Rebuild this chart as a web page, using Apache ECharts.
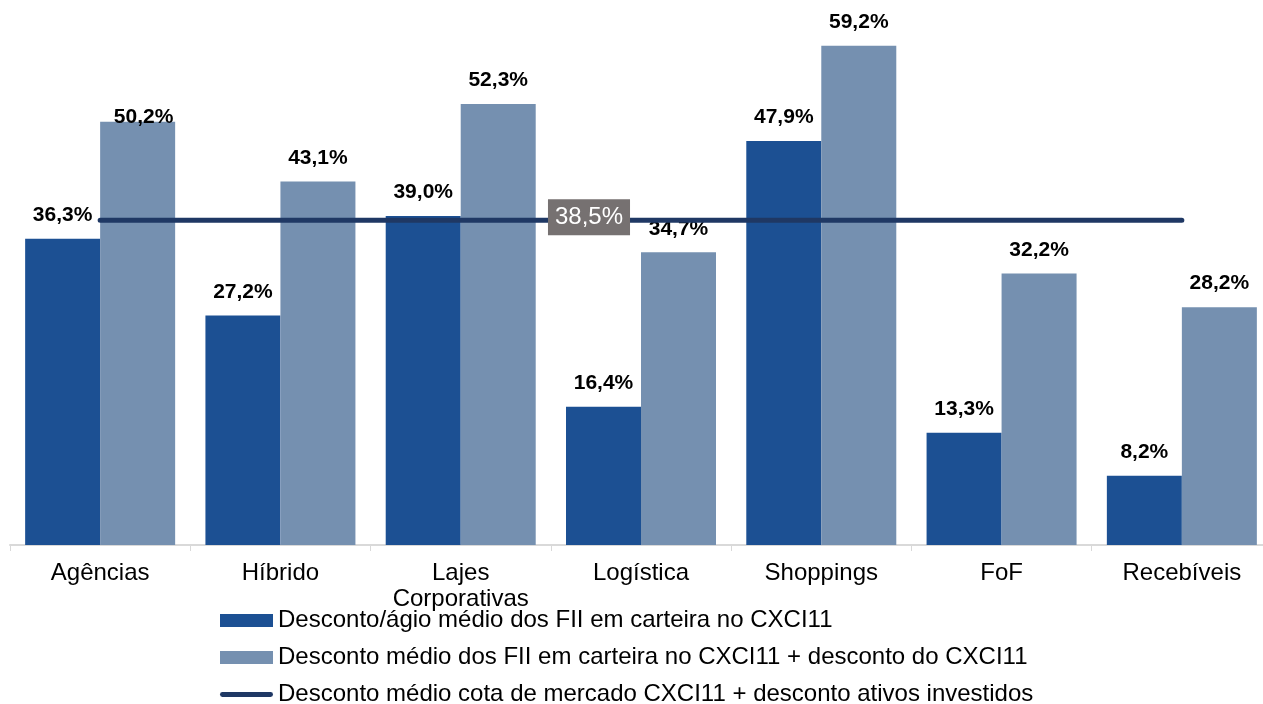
<!DOCTYPE html>
<html>
<head>
<meta charset="utf-8">
<script src="https://cdn.jsdelivr.net/npm/echarts@6/dist/echarts.min.js"></script>
<style>
  html, body { margin: 0; padding: 0; background: #fff; overflow: hidden; }
  #chart { width: 1280px; height: 704px; }
</style>
</head>
<body>
<div id="chart"></div>
<script>
// categorias
const categories = ["Agências", "Híbrido", "Lajes\nCorporativas", "Logística", "Shoppings", "FoF", "Recebíveis"];
// desconto/ágio médio dos FII em carteira
const descontoFii = [36.3, 27.2, 39.0, 16.4, 47.9, 13.3, 8.2];
// desconto médio + desconto do CXCI11
const descontoTotal = [50.2, 43.1, 52.3, 34.7, 59.2, 32.2, 28.2];
// desconto médio cota de mercado (linha)
const descontoMercado = [38.5, 38.5, 38.5, 38.5, 38.5, 38.5, 38.5];

const names = [
  "Desconto/ágio médio dos FII em carteira no CXCI11",
  "Desconto médio dos FII em carteira no CXCI11 + desconto do CXCI11",
  "Desconto médio cota de mercado CXCI11 + desconto ativos investidos",
];

const fmt = (v) => v.toFixed(1).replace(".", ",") + "%";
const FONT = "Liberation Sans, Arial, sans-serif";

const barLabel = {
  show: true,
  position: "top",
  distance: 13,
  color: "#000",
  fontWeight: "bold",
  fontSize: 21,
  fontFamily: FONT,
  formatter: (p) => fmt(p.value),
};

const option = {
  animation: false,
  grid: { left: 10, width: 1262, top: 39, bottom: 159, containLabel: false },
  legend: {
    orient: "vertical",
    left: 220,
    top: 608,
    height: 200,
    padding: 0,
    itemWidth: 53,
    itemHeight: 13,
    itemGap: 12,
    symbolKeepAspect: true,
    textStyle: { fontSize: 24, lineHeight: 25, fontFamily: FONT, color: "#000" },
    data: [
      { name: names[0], icon: "rect" },
      { name: names[1], icon: "rect" },
      {
        name: names[2],
        icon: "path://M2.5,0 L52.5,0 A2.5,2.5 0 0 1 52.5,5 L2.5,5 A2.5,2.5 0 0 1 2.5,0 Z",
      },
    ],
  },
  xAxis: {
    type: "category",
    data: categories,
    axisLine: { lineStyle: { color: "#d9d9d9", width: 2 } },
    axisTick: { show: true, length: 6, lineStyle: { color: "#d9d9d9" } },
    axisLabel: { color: "#000", fontSize: 24, fontFamily: FONT, margin: 15, lineHeight: 26, interval: 0 },
  },
  yAxis: {
    type: "value",
    min: 0,
    max: 60,
    show: false,
    splitLine: { show: false },
  },
  series: [
    {
      name: names[0],
      type: "bar",
      data: descontoFii,
      barWidth: 75,
      barGap: "0%",
      itemStyle: { color: "#1c5093" },
      label: barLabel,
    },
    {
      name: names[1],
      type: "bar",
      data: descontoTotal.map((v, i) =>
        i === 0 ? { value: v, label: { distance: -6, offset: [6, 0] } } : v
      ),
      barWidth: 75,
      itemStyle: { color: "#7590b0" },
      label: barLabel,
    },
    {
      name: names[2],
      type: "line",
      data: descontoMercado.map((v, i) =>
        i === 3
          ? {
              value: v,
              label: {
                show: true,
                position: "inside",
                offset: [-52, -3],
                formatter: (p) => fmt(p.value),
                color: "#fff",
                fontSize: 24,
                fontFamily: FONT,
                backgroundColor: "#767171",
                padding: [6, 7, 6, 7],
              },
            }
          : v
      ),
      symbol: "circle",
      symbolSize: 1,
      showSymbol: true,
      z: 3,
      lineStyle: { color: "#1f3864", width: 5, cap: "round" },
      itemStyle: { color: "#1f3864" },
    },
  ],
};

const chart = echarts.init(document.getElementById("chart"));
chart.setOption(option);
</script>
</body>
</html>
